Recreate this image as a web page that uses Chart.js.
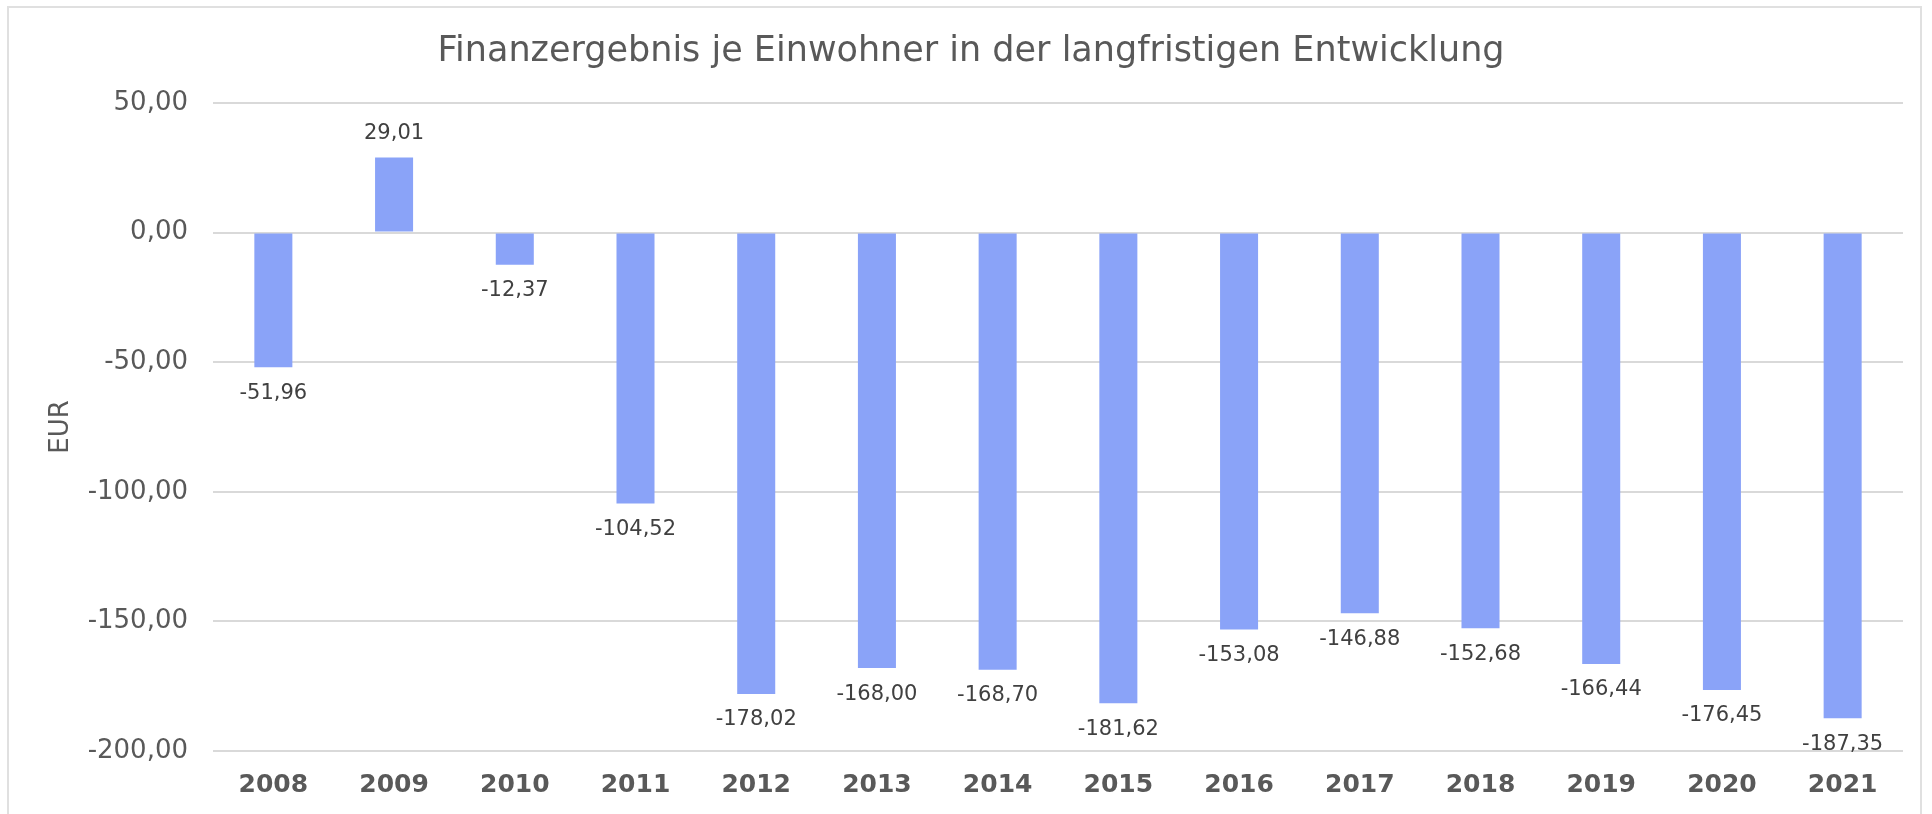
<!DOCTYPE html>
<html>
<head>
<meta charset="utf-8">
<script src="https://cdn.jsdelivr.net/npm/chart.js@4"></script>
<style>
  html, body { margin: 0; padding: 0; background: #fff; }
  #wrap { position: relative; width: 1932px; height: 814px; }
  #rahmen { position: absolute; left: 7px; top: 6px; width: 1915px; height: 830px; border: 2px solid #e0e0e0; box-sizing: border-box; }
  canvas { position: absolute; left: 0; top: 0; }
</style>
</head>
<body>
<div id="wrap">
  <div id="rahmen"></div>
  <canvas id="grafico" width="1932" height="814"></canvas>
</div>
<script>
// DATEN
const jahre = ["2008", "2009", "2010", "2011", "2012", "2013", "2014", "2015", "2016", "2017", "2018", "2019", "2020", "2021"];
const werte = [-51.96, 29.01, -12.37, -104.52, -178.02, -168.00, -168.70, -181.62, -153.08, -146.88, -152.68, -166.44, -176.45, -187.35];
const yTicks = [50, 0, -50, -100, -150, -200];

const titel = "Finanzergebnis je Einwohner in der langfristigen Entwicklung";
const achsenTitel = "EUR";

function fmt(v) {
  return v.toFixed(2).replace(".", ",");
}

// DATENBESCHRIFTUNG
const beschriftung = {
  id: "beschriftung",
  afterDatasetsDraw(chart) {
    const ctx = chart.ctx;
    const meta = chart.getDatasetMeta(0);
    ctx.save();
    ctx.font = "21px 'DejaVu Sans'";
    ctx.fillStyle = "#404040";
    ctx.textAlign = "center";
    ctx.textBaseline = "middle";
    meta.data.forEach((bar, i) => {
      const v = werte[i];
      const y = v >= 0 ? bar.y - 24 : bar.y + 26;
      ctx.fillText(fmt(v), bar.x, y);
    });
    ctx.restore();
  }
};

const ctx = document.getElementById("grafico").getContext("2d");

new Chart(ctx, {
  type: "bar",
  data: {
    labels: jahre,
    datasets: [{
      label: achsenTitel,
      data: werte,
      backgroundColor: "#8aa3f8",
      borderWidth: 0,
      barPercentage: 0.315,
      categoryPercentage: 1
    }]
  },
  options: {
    responsive: false,
    animation: false,
    layout: { padding: { left: 39, right: 29, top: 0, bottom: 0 } },
    plugins: {
      legend: { display: false },
      tooltip: { enabled: false },
      title: {
        display: true,
        text: titel,
        color: "#595959",
        font: { family: "'DejaVu Sans'", size: 35, weight: "normal" },
        padding: { top: 31, bottom: 30 }
      }
    },
    scales: {
      x: {
        afterFit(scale) { scale.height = 63; },
        grid: { display: false, drawTicks: false },
        border: { display: false },
        ticks: {
          color: "#595959",
          font: { family: "'DejaVu Sans'", size: 25, weight: "bold" },
          padding: 19,
          maxRotation: 0
        }
      },
      y: {
        min: -200,
        max: 50,
        afterFit(scale) { scale.width = 174; },
        afterBuildTicks(scale) { scale.ticks = yTicks.map(v => ({ value: v })); },
        grid: { color: "#d9d9d9", lineWidth: 2, drawTicks: false },
        border: { display: false },
        ticks: {
          color: "#595959",
          font: { family: "'DejaVu Sans'", size: 26 },
          padding: 25,
          callback: v => fmt(v)
        },
        title: {
          display: true,
          text: achsenTitel,
          color: "#595959",
          font: { family: "'DejaVu Sans'", size: 26 },
          padding: { top: 7, bottom: 0 }
        }
      }
    }
  },
  plugins: [beschriftung]
});
</script>
</body>
</html>
